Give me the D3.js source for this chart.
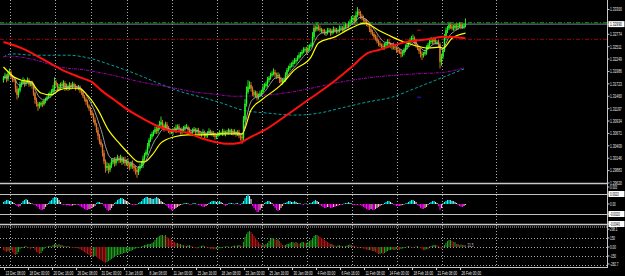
<!DOCTYPE html>
<html><head><meta charset="utf-8">
<script src="https://cdn.jsdelivr.net/npm/d3@7"></script>
<style>html,body{margin:0;padding:0;background:#000;}svg{display:block;}</style>
</head><body>
<svg id="c" width="625" height="276"></svg>
<script>
// ---------- DATA ----------
const firstOpen = 1.3180;
const closes = [
1.3185,1.3190,1.3182,1.3194,1.3197,1.3188,1.3182,1.3180,1.3162,1.3149,
1.3158,1.3170,1.3174,1.3180,1.3172,1.3176,1.3180,1.3171,1.3174,1.3168,
1.3152,1.3138,1.3130,1.3125,1.3128,1.3132,1.3129,1.3136,1.3140,1.3144,
1.3148,1.3152,1.3155,1.3162,1.3176,1.3170,1.3163,1.3166,1.3172,1.3168,
1.3174,1.3163,1.3168,1.3162,1.3170,1.3166,1.3172,1.3168,1.3164,1.3163,
1.3166,1.3158,1.3155,1.3146,1.3140,1.3134,1.3126,1.3120,1.3112,1.3106,
1.3096,1.3086,1.3074,1.3062,1.3050,1.3043,1.3026,1.3008,1.2994,1.2998,
1.2990,1.3000,1.3006,1.3011,1.3004,1.3012,1.3015,1.3010,1.3016,1.3007,
1.3012,1.3004,1.3008,1.3000,1.2997,1.3004,1.2998,1.2994,1.2990,1.2985,
1.2992,1.2998,1.3000,1.3014,1.3022,1.3028,1.3040,1.3053,1.3060,1.3066,
1.3070,1.3076,1.3072,1.3079,1.3086,1.3091,1.3084,1.3078,1.3086,1.3079,
1.3074,1.3070,1.3070,1.3076,1.3073,1.3079,1.3082,1.3076,1.3070,1.3074,
1.3078,1.3081,1.3081,1.3075,1.3070,1.3068,1.3072,1.3076,1.3070,1.3074,
1.3070,1.3066,1.3066,1.3070,1.3062,1.3064,1.3068,1.3072,1.3066,1.3068,
1.3064,1.3060,1.3062,1.3066,1.3068,1.3068,1.3072,1.3066,1.3070,1.3070,
1.3074,1.3070,1.3072,1.3068,1.3070,1.3066,1.3070,1.3062,1.3060,1.3057,
1.3096,1.3130,1.3155,1.3166,1.3170,1.3162,1.3155,1.3149,1.3152,1.3144,
1.3148,1.3152,1.3155,1.3164,1.3168,1.3172,1.3180,1.3185,1.3190,1.3194,
1.3197,1.3192,1.3188,1.3191,1.3182,1.3176,1.3180,1.3180,1.3192,1.3202,
1.3206,1.3210,1.3214,1.3218,1.3220,1.3223,1.3228,1.3233,1.3236,1.3240,
1.3244,1.3246,1.3242,1.3248,1.3252,1.3255,1.3272,1.3291,1.3288,1.3293,
1.3290,1.3286,1.3286,1.3284,1.3280,1.3282,1.3285,1.3286,1.3280,1.3284,
1.3288,1.3285,1.3286,1.3284,1.3290,1.3291,1.3288,1.3292,1.3296,1.3295,
1.3300,1.3303,1.3308,1.3312,1.3306,1.3318,1.3325,1.3322,1.3316,1.3312,
1.3308,1.3304,1.3300,1.3297,1.3288,1.3282,1.3278,1.3272,1.3269,1.3262,
1.3258,1.3255,1.3252,1.3250,1.3254,1.3258,1.3261,1.3257,1.3253,1.3255,
1.3250,1.3248,1.3244,1.3242,1.3240,1.3236,1.3238,1.3244,1.3250,1.3255,
1.3260,1.3265,1.3268,1.3269,1.3262,1.3254,1.3248,1.3242,1.3236,1.3233,
1.3236,1.3240,1.3248,1.3255,1.3261,1.3264,1.3262,1.3265,1.3260,1.3261,
1.3256,1.3219,1.3230,1.3244,1.3270,1.3286,1.3290,1.3297,1.3294,1.3290,
1.3291,1.3296,1.3292,1.3295,1.3298,1.3293,1.3294,1.3296,1.3299
];
// wick extensions beyond the body, in pips
const wickHiPips = [
4,6,3,5,8,4,3,5,4,6, 5,7,4,6,3,5,6,4,3,5, 4,3,5,4,6,3,4,5,3,4, 5,4,6,8,10,5,4,6,3,5,
6,4,5,3,6,4,5,3,4,5, 4,3,5,4,3,4,5,3,4,5, 4,5,3,6,4,5,3,6,4,8, 6,5,8,4,6,5,7,4,6,3,
5,6,4,7,5,4,6,3,5,4, 6,5,8,6,4,5,7,4,6,5, 4,6,5,7,8,12,5,4,6,5, 4,5,6,3,5,7,4,5,3,6,
5,4,6,3,5,4,6,5,3,4, 5,3,4,6,3,5,4,6,3,5, 4,5,3,4,6,3,5,4,3,5, 4,3,5,4,6,3,4,5,3,4,
8,10,12,14,8,6,5,4,6,5, 4,6,5,8,6,5,7,4,6,5, 8,5,4,6,3,5,4,6,5,4, 5,6,4,5,7,4,5,6,4,5,
6,4,5,7,4,5,10,6,5,8, 4,6,5,3,5,4,6,5,4,5, 6,4,5,3,6,5,4,6,5,4, 5,6,8,6,5,8,10,6,5,4,
5,4,6,5,4,6,5,4,5,6, 4,5,3,6,5,4,6,5,3,4, 5,4,3,5,4,6,5,4,6,5, 4,5,6,8,4,5,3,4,6,5,
4,5,6,4,5,8,4,6,5,4, 5,4,6,5,8,6,5,7,4,5, 6,4,5,6,5,4,6,5,12
];
const wickLoPips = [
5,3,6,4,3,5,6,4,8,10, 6,4,5,3,6,4,3,5,4,6, 5,8,6,10,5,4,6,3,5,4, 3,5,4,6,5,4,6,3,5,4,
5,6,4,5,3,6,4,5,6,3, 4,5,6,4,5,6,4,5,6,4, 6,4,5,8,6,5,8,6,10,6, 8,5,6,4,7,5,4,6,5,7,
4,6,5,7,8,5,6,8,10,12, 6,5,4,6,5,4,6,5,4,5, 5,4,6,5,4,6,5,7,4,5, 6,5,4,6,3,5,4,6,5,4,
4,5,3,6,5,4,6,3,5,4, 5,4,6,3,5,4,6,5,3,5, 4,6,5,3,4,5,6,4,5,3, 5,4,6,5,3,6,4,5,8,12,
4,5,6,4,5,6,8,5,6,7, 5,4,6,3,5,4,6,5,4,3, 4,6,5,4,8,6,5,4,3,5, 4,5,3,6,4,5,3,4,5,4,
3,5,6,4,5,3,4,6,5,4, 5,4,6,5,4,6,5,3,6,4, 5,4,6,5,3,4,5,6,4,5, 4,5,3,4,6,5,4,5,6,5,
4,6,5,4,6,5,4,6,5,4, 6,5,4,6,5,4,5,6,4,8, 5,4,6,5,4,8,6,5,4,5, 4,3,5,4,6,5,4,6,8,10,
5,4,6,3,5,4,6,5,4,5, 6,14,8,5,4,5,6,4,5,4, 5,4,6,5,4,5,4,5,4
];
// moving averages: [bar index, price]
const yellowMA = [[0,1.3208],[7,1.3187],[12,1.3180],[19,1.3176],[21,1.3166],[25,1.3153],[32,1.3149],[37,1.3159],[43,1.3163],[50,1.3163],[57,1.3144],[63,1.3117],[70,1.3074],[77,1.3047],[83,1.3026],[90,1.3007],[94,1.3007],[99,1.3021],[105,1.3047],[114,1.3060],[123,1.3064],[132,1.3064],[145,1.3066],[159,1.3066],[165,1.3117],[172,1.3138],[185,1.3170],[194,1.3202],[205,1.3229],[210,1.3259],[221,1.3272],[232,1.3291],[241,1.3301],[250,1.3286],[259,1.3272],[267,1.3261],[279,1.3250],[283,1.3248],[291,1.3250],[293,1.3248],[299,1.3269],[308,1.3280]];
const redMA = [[0,1.3261],[12,1.3248],[25,1.3227],[39,1.3202],[52,1.3185],[59,1.3176],[65,1.3159],[74,1.3138],[83,1.3117],[92,1.3100],[101,1.3085],[110,1.3074],[123,1.3068],[132,1.3057],[141,1.3049],[150,1.3045],[157,1.3047],[165,1.3060],[174,1.3074],[187,1.3102],[203,1.3138],[219,1.3174],[232,1.3208],[243,1.3238],[250,1.3244],[261,1.3255],[272,1.3263],[283,1.3267],[294,1.3272],[308,1.3269]];
const tealMA = [[0,1.3229],[5,1.3236],[21,1.3233],[43,1.3233],[57,1.3227],[72,1.3212],[87,1.3195],[103,1.3174],[119,1.3155],[132,1.3144],[145,1.3132],[159,1.3117],[177,1.3110],[194,1.3106],[210,1.3110],[225,1.3121],[243,1.3134],[259,1.3144],[273,1.3161],[292,1.3185],[307,1.3204]];
const purpleMA = [[0,1.3230],[5,1.3231],[21,1.3223],[37,1.3208],[54,1.3202],[72,1.3191],[92,1.3176],[110,1.3166],[127,1.3155],[139,1.3151],[154,1.3146],[177,1.3149],[199,1.3159],[221,1.3174],[243,1.3185],[272,1.3193],[294,1.3197],[307,1.3206]];
const fastPeriod = 8;
// sub-window 1 (histogram)
const osma = [
.0004,.0006,.0008,.0008,.0006,.0006,.0004,.0002, -.0002,-.0004,-.0006,-.0004,
.0002,.0006,.0008,.001,.0008,.0004, .0002,.0001,-.0001,-.0002,
-.0004,-.0006,-.001,-.0012,-.0012,-.001,-.0006,-.0002,
.0002,.0006,.0008,.0012,.0014,.0014,.0012,.0008,.0004,
-.0001,-.0002,-.0002,-.0003,-.0002,-.0003,-.0004,-.0003,-.0002,-.0001,-.0002,
-.0002,-.0004,-.0006,-.0008,-.001,-.0012,-.0012,-.001,-.001,-.0008,-.0006,-.0004,
.0002,.0004,.0004,.0002,.0001,
-.0004,-.0008,-.0012,-.0014,-.0012,-.0008,-.0004,
.0002,.0004,.0008,.001,.0012,.0012,.001,.0008,.0006,.0004,.0002,
-.0001,-.0002,-.0002,-.0002,-.0001,
.0002,.0004,.0006,.001,.0012,.0014,.0014,.0012,.0012,.001,.001,.0012,.0014,.0012,.001,.0006,.0004,.0002,
-.0002,-.0004,-.0008,-.001,-.0012,-.0012,-.001,-.0008,-.0006,-.0004,-.0002,-.0001,
.0001,.0002,.0002,.0001,-.0001,-.0002,.0001,.0002,.0001,-.0001,-.0002,-.0002,
-.0004,-.0006,-.0006,-.0004,-.0002,
.0002,.0004,.0006,.0006,.0006,.0004,.0004,.0006,.0004,.0002,
-.0002,-.0004,-.0002,
.0001,.0002,.0002,.0001,-.0001,.0002,.0002,
-.0001,-.0002,.0002,
.0006,.0012,.0016,.0018,.0016,.001,
-.0004,-.0008,-.0012,-.0016,-.0016,-.0012,-.0008,-.0004,
.0002,.0004,.0006,.0006,.0004,.0002,
-.0004,-.0008,-.0012,-.0014,-.0012,-.0008,-.0004,
.0002,.0002,.0004,.0006,.0006,.0004,.0004,.0006,.0004,.0002,.0002,
.0001,-.0001,-.0002,.0001,.0001,-.0001,.0002,.0002,
.0004,.0006,.0008,.0006,.0004,
-.0002,-.0004,-.0006,-.0008,-.0008,-.0006,-.0006,-.0008,-.0008,-.0006,-.0006,-.0004,-.0004,-.0002,-.0002,-.0001,
.0001,.0002,.0002,.0004,.0002,.0001,
-.0002,-.0002,-.0002,-.0001,
-.0001,-.0002,-.0004,-.0006,-.0008,-.001,-.0012,-.0012,-.001,-.0012,-.0012,-.001,-.0008,-.0006,-.0004,-.0002,-.0001,
.0002,.0004,.0006,.0006,.0004,.0002,
-.0001,-.0002,-.0004,-.0004,-.0004,-.0003,-.0002,-.0001,.0001,
.0002,.0004,.0006,.0008,.0008,.0006,.0004,
-.0002,-.0004,-.0008,-.001,-.001,-.0008,-.0006,-.0002,
.0002,.0004,.0006,.0006,.0004,.0002,
-.0004,-.0012,-.0008,
.0002,.0004,.0006,.0008,.0008,.0008,.0006,.0006,.0004,.0002,
-.0002,-.0004,-.0006,-.0006,-.0004,-.0002
];
// sub-window 2 (histogram)
const hist = [
-50,-67,-83,-67,-83,-50, -83,-117,-133,-117,-83,
-33,-17,-17,8,17,-8,-17,-33,-17,-8,
-50,-83,-100,-117,-100,-67,-33,
-17,8,17,17,8,
33,50,50,33,50,33,33,17,17,8,17,
8,-8,-17,-8,-17,-17,-25,
-33,-50,-67,-83,-100,-117,-133,-150,-167,-167,-150,-167,-183,-200,-217,-233,-250,-267,-250,-233,-217,-200,-183,-167,
-150,-133,-133,-117,-117,-100,-100,-83,-83,-67,-67,-50,-33,
-25,-17,-17,-8,8,
17,33,33,50,50,50,67,83,117,
133,167,183,200,200,183,200,167,150,133,117,
100,83,67,67,50,50,33,33,17,
17,25,33,17,8,-8,-17,-25,-17,8,17,25,17,8,-8,-17,-33,-25,
-33,-42,-33,-25,-17,-17,
-8,8,8,17,8,-8,8,17,25,
17,25,33,25,17,
83,167,217,250,267,
250,217,183,150,117,83,50,
33,50,33,50,
67,100,133,150,150,133,117,133,100,67,
33,25,
33,50,50,67,83,83,67,83,67,50,67,83,83,67,67,83,100,117,
150,183,200,200,183,167,
150,133,117,100,83,67,50,50,33,
25,17,25,33,17,17,8,17,25,33,42,33,25,17,8,-8,-17,-8,
-17,-25,-33,-42,-50,-50,-58,-67,-67,
-83,-100,-117,-117,-100,-117,-100,-83,-67,
-50,-50,-42,-50,-50,-33,-42,-50,-33,-25,-17,-8,8,17,8,-8,
-17,-8,8,17,-8,
-17,-33,-50,-50,-33,-42,
8,17,25,33,33,25,17,
-17,-33,-8,
33,67,100,117,117,100,83,83,
50,50,33,42,33,33,31.5
];
const priceTickLabels = ["1.33300","1.33037","1.32774","1.32511","1.32249","1.31986","1.31723","1.31460","1.31197","1.30934","1.30671","1.30409","1.30146","1.29883","1.29620"];
const askPrice = 1.3302;
const levelRed = 1.32667;
const markRed = [277, 1.3286];
const markBlue = [277, 1.3144];
const osmaLabelVals = [0.0034, 0.002, 0, -0.002, -0.004];
const osmaLabelText = ["0.003", "0.0020", "0.00", "-0.0020", "-0.0040"];
const osmaLevels = [0.002, -0.002];
const histLevels = [300, 150, 0, -150, -300];
const histLabelVals = [298.1, 150, 0, -150, -282.7];
const histLabelText = ["298.1", "150", "0.00", "-150", "-282.7"];
const timeLabels = ["13 Dec 08:00","18 Dec 00:00","20 Dec 16:00","26 Dec 08:00","31 Dec 00:00","3 Jan 16:00","8 Jan 08:00","11 Jan 00:00","15 Jan 16:00","18 Jan 08:00","23 Jan 00:00","25 Jan 16:00","30 Jan 08:00","4 Feb 00:00","6 Feb 16:00","11 Feb 08:00","14 Feb 00:00","18 Feb 16:00","21 Feb 08:00","26 Feb 00:00"];
const barsPerTimeLabel = 16;
const gridBars = [4, 34, 58, 82, 112, 142, 172, 202, 232, 262, 292, 328];

// ---------- CHART ----------
const W = 625, H = 276, AXX = 607.5;
const FONT = "'Liberation Sans', Arial, sans-serif";
const SX = 0.63; // horizontal squeeze of the tiny terminal font
const svg = d3.select("#c");
svg.append("rect").attr("width", W).attr("height", H).attr("fill", "#000");

const x = d3.scaleLinear().domain([0, 1]).range([3.5, 5]);
const yP = d3.scaleLinear().domain([1.2962, 1.3330]).range([183, 9.5]);
const yO = d3.scaleLinear().domain([-0.004, 0.004]).range([224, 184]);
const yH = d3.scaleLinear().domain([-300, 300]).range([265, 229]);

const txt = (g, tx, ty, t, size, fill, dy) => g.append("text")
  .attr("transform", `translate(${tx},${ty}) scale(${SX},1)`)
  .attr("dy", dy || 0).attr("font-family", FONT).attr("font-size", size).attr("fill", fill).text(t);

// vertical dotted grid
svg.append("g").selectAll("line").data(gridBars).join("line")
  .attr("x1", d => Math.round(x(d)) + 0.5).attr("x2", d => Math.round(x(d)) + 0.5)
  .attr("y1", 0).attr("y2", 267)
  .attr("stroke", "#a8a8a8").attr("stroke-width", 1).attr("stroke-dasharray", "1,2");

// window borders & levels
const hl = (y, color, dash, w) => svg.append("line").attr("x1", 0).attr("x2", AXX).attr("y1", y).attr("y2", y)
  .attr("stroke", color).attr("stroke-width", w || 1).attr("stroke-dasharray", dash || null);
hl(183.5, "#c8c8c8", null, 1.5);
osmaLevels.forEach(v => hl(Math.round(yO(v)) + 0.5, "#c0c0c0", null, 1.2));
hl(224.5, "#c8c8c8", null, 1.5);
hl(227, "#b0b0b0", "1,1");
histLevels.slice(1).forEach(v => hl(Math.round(yH(v)) + 0.5, "#a0a0a0", "1,2"));
hl(267.5, "#c8c8c8", null, 1);

// main window
const main = svg.append("g");
main.append("clipPath").attr("id", "mc").append("rect").attr("x", 0).attr("y", 0).attr("width", AXX).attr("height", 183);
const mg = main.append("g").attr("clip-path", "url(#mc)");

// horizontal price lines
const pl = (p, color, dash, w) => mg.append("line").attr("x1", 0).attr("x2", AXX).attr("y1", yP(p)).attr("y2", yP(p))
  .attr("stroke", color).attr("stroke-width", w || 1).attr("stroke-dasharray", dash || null);
pl(askPrice, "#00a000", "4,2,1,2");
pl(closes[closes.length - 1], "#7a8694", null, 1);
pl(levelRed, "#a00000", "4,2,1,2");

// long MAs (dashed)
const line = d3.line().x(d => x(d[0])).y(d => yP(d[1])).curve(d3.curveMonotoneX);
mg.append("path").attr("d", line(tealMA)).attr("fill", "none").attr("stroke", "#00a0a0").attr("stroke-width", 1).attr("stroke-dasharray", "3,2");
mg.append("path").attr("d", line(purpleMA)).attr("fill", "none").attr("stroke", "#a000b0").attr("stroke-width", 1).attr("stroke-dasharray", "3,1,1,1");

// candles
const bars = closes.map((c, i) => {
  const o = i === 0 ? firstOpen : closes[i - 1];
  return { i, o, c, h: Math.max(o, c) + wickHiPips[i] / 10000, l: Math.min(o, c) - wickLoPips[i] / 10000 };
});
mg.append("g").selectAll("rect").data(bars).join("rect")
  .attr("x", d => x(d.i) - 0.5).attr("width", 1)
  .attr("y", d => yP(d.h)).attr("height", d => Math.max(1, yP(d.l) - yP(d.h)))
  .attr("fill", d => d.c >= d.o ? "#1ee61e" : "#d2691e");
mg.append("g").selectAll("rect").data(bars).join("rect")
  .attr("x", d => x(d.i) - 0.7).attr("width", 1.4)
  .attr("y", d => yP(Math.max(d.o, d.c))).attr("height", d => Math.max(0.8, Math.abs(yP(d.o) - yP(d.c))))
  .attr("fill", d => d.c >= d.o ? "#22ff22" : "#e07a2a");

// fast EMA (grey)
const k = 2 / (fastPeriod + 1);
const ema = [];
closes.forEach((c, i) => ema.push(i === 0 ? c : ema[i - 1] + k * (c - ema[i - 1])));
mg.append("path").attr("d", d3.line().x((d, i) => x(i)).y(d => yP(d))(ema))
  .attr("fill", "none").attr("stroke", "#a8a8a8").attr("stroke-width", 0.9);
mg.append("path").attr("d", line(yellowMA)).attr("fill", "none").attr("stroke", "#ffff00").attr("stroke-width", 1.2);
mg.append("path").attr("d", line(redMA)).attr("fill", "none").attr("stroke", "#ff1010").attr("stroke-width", 2);

// small object marks
[[markRed, "#d00000"], [markBlue, "#2020d0"]].forEach(([m, col]) =>
  mg.append("line").attr("x1", x(m[0]) - 2).attr("x2", x(m[0]) + 2).attr("y1", yP(m[1])).attr("y2", yP(m[1]))
    .attr("stroke", col).attr("stroke-width", 1));

// sub-window 1 histogram
svg.append("g").selectAll("rect").data(osma).join("rect")
  .attr("x", (d, i) => x(i) - 0.5).attr("width", 1.1)
  .attr("y", d => Math.min(yO(d), yO(0))).attr("height", d => Math.max(0.6, Math.abs(yO(d) - yO(0))))
  .attr("fill", (d, i) => {
    const p = i ? osma[i - 1] : 0;
    if (d >= 0) return d >= p ? "#00ffff" : "#e8e8e8";
    return d <= p ? "#ff00ff" : "#ffb0c8";
  });

// sub-window 2 histogram
svg.append("g").selectAll("rect").data(hist).join("rect")
  .attr("x", (d, i) => x(i) - 0.5).attr("width", 1)
  .attr("y", d => Math.min(yH(d), yH(0))).attr("height", d => Math.max(0.6, Math.abs(yH(d) - yH(0))))
  .attr("fill", (d, i) => (d >= (i ? hist[i - 1] : 0)) ? "#1ea01e" : "#b41414");
txt(svg, x(hist.length - 1) + 2, yH(hist[hist.length - 1]) + 2, d3.format(".1f")(hist[hist.length - 1]), 5, "#c8c8c8");

// right axis
const ax = svg.append("g");
ax.append("line").attr("x1", AXX).attr("x2", AXX).attr("y1", 0).attr("y2", 268).attr("stroke", "#c8c8c8").attr("stroke-width", 1);
const rlab = (y, t, boxed, size) => {
  ax.append("line").attr("x1", AXX).attr("x2", AXX + 2).attr("y1", y).attr("y2", y).attr("stroke", "#c8c8c8");
  if (boxed) ax.append("rect").attr("x", 608.5).attr("y", y - 3).attr("width", 16).attr("height", 6).attr("fill", "#ffffff");
  txt(ax, 610, y, t, size || 5.2, boxed ? "#000" : "#e8e8e8", "0.36em");
};
const lastClose = closes[closes.length - 1];
priceTickLabels.filter(t => Math.abs(yP(+t) - yP(lastClose)) > 5).forEach(t => rlab(yP(+t), t, false));
rlab(yP(lastClose), lastClose.toFixed(5), true);
osmaLabelVals.forEach((v, i) => rlab(yO(v), osmaLabelText[i], i === 1 || i === 3 || i === 4, 4.6));
histLabelVals.forEach((v, i) => rlab(yH(v), histLabelText[i], false, 4.8));

// time axis
const tg = svg.append("g");
timeLabels.forEach((t, j) => {
  const xx = Math.round(x(j * barsPerTimeLabel)) + 0.5;
  tg.append("line").attr("x1", xx).attr("x2", xx).attr("y1", 267.5).attr("y2", 270).attr("stroke", "#c8c8c8");
  txt(tg, xx + 1, 274.5, t, 5.3, "#e8e8e8");
});
</script>
</body></html>
